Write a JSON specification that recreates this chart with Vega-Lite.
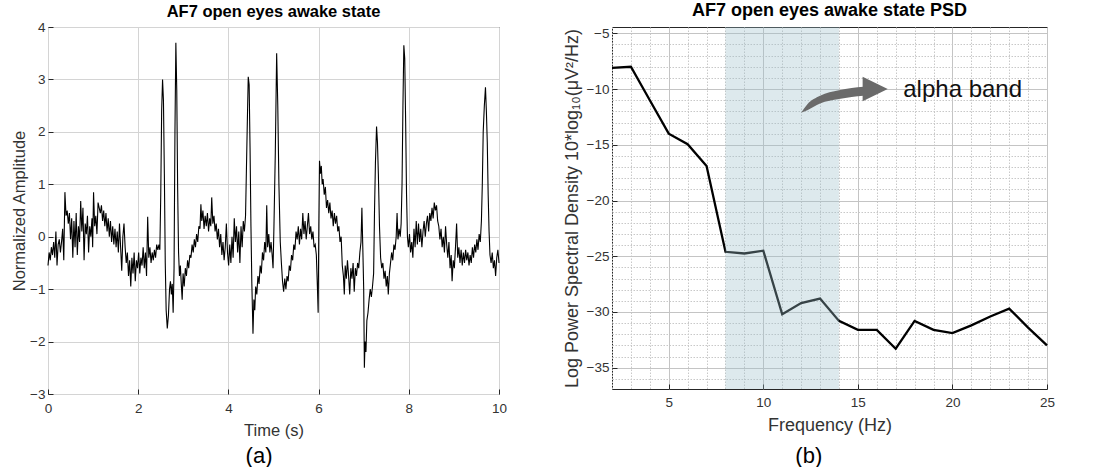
{
  "$schema": "https://vega.github.io/schema/vega-lite/v6.json",
  "background": "white",
  "padding": {"left": 11, "top": 1, "right": 0, "bottom": 0},
  "spacing": 54,
  "config": {
    "font": "Liberation Sans",
    "view": {"stroke": "#262626", "strokeWidth": 1},
    "axis": {
      "domain": false,
      "grid": true,
      "gridColor": "#d4d4d4",
      "gridOpacity": 1,
      "tickColor": "#262626",
      "tickSize": -5,
      "labelColor": "#333333",
      "labelFont": "Liberation Sans",
      "labelFontSize": 13.5,
      "labelPadding": 8,
      "labelFlush": false,
      "labelOverlap": false,
      "titleColor": "#333333",
      "titleFont": "Liberation Sans",
      "titleFontWeight": "normal",
      "titleFontSize": 16.5
    },
    "title": {"color": "#000000", "font": "Liberation Sans", "fontWeight": "bold", "anchor": "middle"}
  },
  "datasets": {
    "eeg": [
      {"t":0.000,"v":-0.55},{"t":0.025,"v":-0.30},{"t":0.050,"v":-0.45},{"t":0.075,"v":-0.20},{"t":0.100,"v":-0.35},{"t":0.125,"v":-0.10},{"t":0.150,"v":-0.40},{"t":0.175,"v":0.10},{"t":0.200,"v":-0.55},{"t":0.225,"v":-0.15},{"t":0.250,"v":-0.05},{"t":0.275,"v":-0.30},{"t":0.300,"v":-0.10},{"t":0.325,"v":0.15},{"t":0.350,"v":-0.45},{"t":0.375,"v":0.85},{"t":0.400,"v":0.40},{"t":0.425,"v":0.50},{"t":0.450,"v":0.25},{"t":0.475,"v":0.45},{"t":0.500,"v":-0.05},
      {"t":0.525,"v":0.35},{"t":0.550,"v":-0.40},{"t":0.575,"v":0.30},{"t":0.600,"v":-0.20},{"t":0.625,"v":0.45},{"t":0.650,"v":-0.35},{"t":0.675,"v":0.20},{"t":0.700,"v":-0.10},{"t":0.725,"v":0.68},{"t":0.750,"v":0.10},{"t":0.775,"v":0.55},{"t":0.800,"v":-0.45},{"t":0.825,"v":0.25},{"t":0.850,"v":0.05},{"t":0.875,"v":0.40},{"t":0.900,"v":-0.30},{"t":0.925,"v":0.20},{"t":0.950,"v":0.00},{"t":0.975,"v":0.35},{"t":0.990,"v":-0.20},
      {"t":1.010,"v":0.85},{"t":1.035,"v":0.20},{"t":1.060,"v":0.40},{"t":1.085,"v":0.05},{"t":1.110,"v":0.65},{"t":1.135,"v":0.55},{"t":1.160,"v":0.45},{"t":1.185,"v":0.60},{"t":1.210,"v":0.30},{"t":1.235,"v":0.50},{"t":1.260,"v":0.20},{"t":1.285,"v":0.45},{"t":1.310,"v":0.10},{"t":1.335,"v":0.35},{"t":1.360,"v":0.00},{"t":1.385,"v":0.30},{"t":1.410,"v":-0.10},{"t":1.435,"v":0.20},{"t":1.460,"v":-0.15},{"t":1.485,"v":0.15},
      {"t":1.510,"v":-0.20},{"t":1.535,"v":0.10},{"t":1.560,"v":-0.30},{"t":1.585,"v":0.25},{"t":1.610,"v":-0.20},{"t":1.635,"v":-0.65},{"t":1.660,"v":0.00},{"t":1.685,"v":0.25},{"t":1.710,"v":-0.20},{"t":1.735,"v":-0.50},{"t":1.760,"v":-0.30},{"t":1.785,"v":-0.75},{"t":1.810,"v":-0.45},{"t":1.835,"v":-0.95},{"t":1.860,"v":-0.40},{"t":1.885,"v":-0.70},{"t":1.910,"v":-0.30},{"t":1.935,"v":-0.85},{"t":1.960,"v":-0.45},{"t":1.985,"v":-0.60},
      {"t":2.010,"v":-0.30},{"t":2.035,"v":-0.70},{"t":2.060,"v":-0.40},{"t":2.085,"v":-0.55},{"t":2.110,"v":-0.20},{"t":2.135,"v":-0.60},{"t":2.160,"v":-0.30},{"t":2.185,"v":-0.75},{"t":2.210,"v":0.38},{"t":2.235,"v":-0.40},{"t":2.260,"v":-0.20},{"t":2.285,"v":-0.50},{"t":2.310,"v":-0.30},{"t":2.335,"v":-0.45},{"t":2.360,"v":-0.25},{"t":2.385,"v":-0.40},{"t":2.410,"v":-0.15},{"t":2.435,"v":-0.25},{"t":2.460,"v":-0.15},{"t":2.480,"v":-0.25},
      {"t":2.500,"v":0.80},{"t":2.520,"v":2.40},{"t":2.540,"v":3.00},{"t":2.560,"v":2.60},{"t":2.580,"v":1.20},{"t":2.600,"v":-0.50},{"t":2.620,"v":-1.40},{"t":2.645,"v":-1.75},{"t":2.670,"v":-1.50},{"t":2.695,"v":-1.00},{"t":2.715,"v":-0.85},{"t":2.735,"v":-1.10},{"t":2.755,"v":-0.90},{"t":2.775,"v":-1.45},{"t":2.795,"v":-0.60},{"t":2.815,"v":2.00},{"t":2.835,"v":3.70},{"t":2.855,"v":2.80},{"t":2.875,"v":0.90},{"t":2.895,"v":-0.30},
      {"t":2.915,"v":-0.75},{"t":2.935,"v":-0.55},{"t":2.955,"v":-0.90},{"t":2.975,"v":-1.20},{"t":2.995,"v":-0.70},{"t":3.020,"v":-0.95},{"t":3.045,"v":-0.60},{"t":3.070,"v":-0.75},{"t":3.095,"v":-0.45},{"t":3.120,"v":-0.60},{"t":3.145,"v":-0.35},{"t":3.170,"v":-0.40},{"t":3.195,"v":-0.15},{"t":3.220,"v":-0.30},{"t":3.245,"v":-0.05},{"t":3.270,"v":-0.20},{"t":3.295,"v":0.05},{"t":3.320,"v":-0.10},{"t":3.345,"v":0.20},{"t":3.370,"v":0.15},
      {"t":3.390,"v":0.62},{"t":3.410,"v":0.30},{"t":3.435,"v":0.50},{"t":3.460,"v":0.15},{"t":3.485,"v":0.40},{"t":3.510,"v":0.20},{"t":3.535,"v":0.45},{"t":3.560,"v":0.10},{"t":3.585,"v":0.35},{"t":3.610,"v":0.20},{"t":3.630,"v":0.75},{"t":3.655,"v":0.25},{"t":3.680,"v":0.40},{"t":3.705,"v":0.10},{"t":3.730,"v":0.25},{"t":3.755,"v":-0.05},{"t":3.780,"v":0.15},{"t":3.805,"v":-0.20},{"t":3.830,"v":0.05},{"t":3.855,"v":-0.35},
      {"t":3.880,"v":-0.10},{"t":3.905,"v":-0.45},{"t":3.930,"v":-0.20},{"t":3.955,"v":0.25},{"t":3.980,"v":-0.30},{"t":4.005,"v":-0.55},{"t":4.030,"v":-0.15},{"t":4.055,"v":-0.50},{"t":4.080,"v":0.00},{"t":4.105,"v":-0.40},{"t":4.130,"v":0.35},{"t":4.155,"v":-0.10},{"t":4.180,"v":0.20},{"t":4.205,"v":-0.30},{"t":4.230,"v":0.10},{"t":4.255,"v":-0.50},{"t":4.280,"v":0.20},{"t":4.305,"v":-0.20},{"t":4.330,"v":0.30},{"t":4.355,"v":0.10},
      {"t":4.380,"v":0.40},{"t":4.400,"v":1.30},{"t":4.420,"v":2.20},{"t":4.440,"v":3.05},{"t":4.460,"v":2.90},{"t":4.480,"v":1.70},{"t":4.500,"v":0.20},{"t":4.520,"v":-0.90},{"t":4.545,"v":-1.85},{"t":4.565,"v":-1.20},{"t":4.585,"v":-1.40},{"t":4.605,"v":-0.95},{"t":4.630,"v":-1.10},{"t":4.655,"v":-0.75},{"t":4.680,"v":-0.90},{"t":4.705,"v":-0.55},{"t":4.730,"v":-0.70},{"t":4.755,"v":-0.30},{"t":4.780,"v":-0.45},{"t":4.805,"v":-0.10},
      {"t":4.830,"v":-0.30},{"t":4.850,"v":0.60},{"t":4.870,"v":-0.20},{"t":4.895,"v":0.05},{"t":4.920,"v":-0.30},{"t":4.945,"v":-0.10},{"t":4.970,"v":-0.35},{"t":4.990,"v":-0.60},{"t":5.010,"v":0.20},{"t":5.040,"v":1.60},{"t":5.070,"v":3.50},{"t":5.095,"v":2.50},{"t":5.120,"v":1.00},{"t":5.150,"v":-0.10},{"t":5.175,"v":-0.50},{"t":5.200,"v":-0.85},{"t":5.225,"v":-1.05},{"t":5.250,"v":-0.80},{"t":5.275,"v":-1.00},{"t":5.300,"v":-0.75},
      {"t":5.325,"v":-0.85},{"t":5.350,"v":-0.55},{"t":5.375,"v":-0.65},{"t":5.400,"v":-0.35},{"t":5.425,"v":-0.45},{"t":5.450,"v":-0.15},{"t":5.475,"v":-0.25},{"t":5.500,"v":0.10},{"t":5.525,"v":-0.05},{"t":5.550,"v":0.20},{"t":5.575,"v":-0.15},{"t":5.600,"v":0.15},{"t":5.625,"v":-0.05},{"t":5.650,"v":0.45},{"t":5.675,"v":0.05},{"t":5.700,"v":0.30},{"t":5.725,"v":-0.05},{"t":5.750,"v":0.20},{"t":5.775,"v":0.45},{"t":5.800,"v":0.05},
      {"t":5.825,"v":0.20},{"t":5.850,"v":-0.05},{"t":5.875,"v":0.10},{"t":5.900,"v":-0.20},{"t":5.925,"v":-0.15},{"t":5.950,"v":-0.35},{"t":5.975,"v":-1.00},{"t":5.990,"v":-1.45},{"t":6.005,"v":0.20},{"t":6.020,"v":1.45},{"t":6.040,"v":1.20},{"t":6.060,"v":1.35},{"t":6.080,"v":1.00},{"t":6.100,"v":1.10},{"t":6.125,"v":0.80},{"t":6.150,"v":0.95},{"t":6.175,"v":0.55},{"t":6.200,"v":0.70},{"t":6.225,"v":0.45},{"t":6.250,"v":0.65},
      {"t":6.275,"v":0.35},{"t":6.300,"v":0.50},{"t":6.325,"v":0.20},{"t":6.350,"v":0.45},{"t":6.375,"v":0.25},{"t":6.400,"v":0.40},{"t":6.425,"v":0.10},{"t":6.450,"v":0.20},{"t":6.475,"v":-0.10},{"t":6.500,"v":0.00},{"t":6.525,"v":-0.55},{"t":6.550,"v":-0.75},{"t":6.570,"v":-1.10},{"t":6.590,"v":-0.55},{"t":6.615,"v":-0.80},{"t":6.640,"v":-0.45},{"t":6.665,"v":-0.75},{"t":6.690,"v":-1.10},{"t":6.715,"v":-0.60},{"t":6.740,"v":-0.80},
      {"t":6.765,"v":-0.50},{"t":6.790,"v":-1.05},{"t":6.815,"v":-0.60},{"t":6.840,"v":-0.75},{"t":6.865,"v":-0.50},{"t":6.890,"v":-0.60},{"t":6.915,"v":-0.30},{"t":6.940,"v":-0.10},{"t":6.960,"v":0.55},{"t":6.980,"v":-0.20},{"t":7.000,"v":-1.00},{"t":7.015,"v":-2.50},{"t":7.030,"v":-2.00},{"t":7.050,"v":-2.20},{"t":7.070,"v":-1.60},{"t":7.095,"v":-1.45},{"t":7.120,"v":-1.20},{"t":7.145,"v":-1.00},{"t":7.170,"v":-1.15},{"t":7.195,"v":-0.95},
      {"t":7.220,"v":-0.70},{"t":7.240,"v":0.50},{"t":7.260,"v":1.40},{"t":7.285,"v":2.10},{"t":7.305,"v":1.80},{"t":7.325,"v":1.20},{"t":7.350,"v":0.20},{"t":7.375,"v":-0.40},{"t":7.400,"v":-0.60},{"t":7.425,"v":-0.50},{"t":7.450,"v":-0.80},{"t":7.475,"v":-0.65},{"t":7.500,"v":-0.95},{"t":7.525,"v":-0.75},{"t":7.545,"v":-1.10},{"t":7.570,"v":-0.70},{"t":7.595,"v":-0.50},{"t":7.620,"v":-0.30},{"t":7.645,"v":-0.45},{"t":7.670,"v":-0.15},
      {"t":7.695,"v":-0.25},{"t":7.720,"v":0.00},{"t":7.740,"v":0.45},{"t":7.760,"v":-0.05},{"t":7.785,"v":0.15},{"t":7.810,"v":0.00},{"t":7.830,"v":0.25},{"t":7.850,"v":1.00},{"t":7.870,"v":2.50},{"t":7.890,"v":3.65},{"t":7.910,"v":3.40},{"t":7.930,"v":2.20},{"t":7.950,"v":0.80},{"t":7.970,"v":0.00},{"t":7.990,"v":-0.20},{"t":8.015,"v":0.05},{"t":8.040,"v":-0.30},{"t":8.065,"v":-0.10},{"t":8.090,"v":-0.40},{"t":8.115,"v":0.15},
      {"t":8.140,"v":-0.20},{"t":8.165,"v":0.30},{"t":8.190,"v":-0.15},{"t":8.215,"v":0.25},{"t":8.240,"v":-0.10},{"t":8.265,"v":0.15},{"t":8.290,"v":-0.20},{"t":8.315,"v":0.10},{"t":8.340,"v":0.30},{"t":8.365,"v":0.00},{"t":8.390,"v":0.25},{"t":8.415,"v":0.40},{"t":8.440,"v":0.10},{"t":8.465,"v":0.45},{"t":8.490,"v":0.30},{"t":8.515,"v":0.55},{"t":8.540,"v":0.35},{"t":8.565,"v":0.65},{"t":8.590,"v":0.50},{"t":8.615,"v":0.60},
      {"t":8.640,"v":0.30},{"t":8.665,"v":0.20},{"t":8.690,"v":-0.05},{"t":8.715,"v":0.15},{"t":8.740,"v":-0.20},{"t":8.765,"v":0.00},{"t":8.790,"v":-0.30},{"t":8.815,"v":0.20},{"t":8.840,"v":-0.15},{"t":8.865,"v":-0.40},{"t":8.890,"v":-0.10},{"t":8.915,"v":-0.60},{"t":8.940,"v":-0.35},{"t":8.960,"v":-0.85},{"t":8.985,"v":-0.45},{"t":9.010,"v":-0.60},{"t":9.035,"v":-0.20},{"t":9.060,"v":0.25},{"t":9.085,"v":-0.40},{"t":9.110,"v":-0.20},
      {"t":9.135,"v":-0.50},{"t":9.160,"v":-0.25},{"t":9.185,"v":-0.55},{"t":9.210,"v":-0.30},{"t":9.235,"v":-0.50},{"t":9.260,"v":-0.25},{"t":9.285,"v":-0.45},{"t":9.310,"v":-0.30},{"t":9.335,"v":-0.55},{"t":9.360,"v":-0.35},{"t":9.385,"v":-0.50},{"t":9.410,"v":-0.20},{"t":9.435,"v":-0.40},{"t":9.460,"v":-0.15},{"t":9.485,"v":-0.30},{"t":9.510,"v":-0.05},{"t":9.535,"v":-0.25},{"t":9.560,"v":0.05},{"t":9.585,"v":-0.10},{"t":9.610,"v":0.30},
      {"t":9.630,"v":1.00},{"t":9.650,"v":2.00},{"t":9.675,"v":2.50},{"t":9.700,"v":2.85},{"t":9.720,"v":2.40},{"t":9.740,"v":1.80},{"t":9.760,"v":0.80},{"t":9.780,"v":0.10},{"t":9.800,"v":-0.35},{"t":9.825,"v":-0.50},{"t":9.850,"v":-0.30},{"t":9.875,"v":-0.60},{"t":9.900,"v":-0.45},{"t":9.925,"v":-0.75},{"t":9.950,"v":-0.40},{"t":9.975,"v":-0.25},{"t":10.000,"v":-0.50}
    ],
    "psd": [
      {"f":2,"db":-8.1},{"f":3,"db":-8.0},{"f":4,"db":-11.0},{"f":5,"db":-14.0},{"f":6,"db":-14.95},{"f":7,"db":-16.9},{"f":8,"db":-24.6},{"f":9,"db":-24.75},{"f":10,"db":-24.5},{"f":11,"db":-30.2},{"f":12,"db":-29.2},{"f":13,"db":-28.8},{"f":14,"db":-30.8},{"f":15,"db":-31.6},{"f":16,"db":-31.6},{"f":17,"db":-33.3},{"f":18,"db":-30.8},{"f":19,"db":-31.6},{"f":20,"db":-31.9},{"f":21,"db":-31.2},{"f":22,"db":-30.4},{"f":23,"db":-29.7},{"f":24,"db":-31.4},{"f":25,"db":-33.0}
    ],
    "band": [{"lo": 8, "hi": 14}],
    "arrowBody": [
      {"f":12.0,"top":-12.12,"bot":-12.12},{"f":12.33,"top":-11.36,"bot":-11.9},{"f":13.0,"top":-10.6,"bot":-11.3},{"f":14.0,"top":-10.1,"bot":-10.9},{"f":14.67,"top":-9.9,"bot":-10.7},{"f":15.3,"top":-9.8,"bot":-10.6}
    ],
    "arrowHead": [
      {"f":15.25,"top":-8.9,"bot":-11.1},{"f":16.58,"top":-10.0,"bot":-10.0}
    ],
    "note": [{"f":17.4,"db":-10.1,"label":"alpha band"}]
  },
  "hconcat": [
    {
      "title": {"text": "(a)", "orient": "bottom", "fontSize": 22, "fontWeight": "normal", "color": "#000000", "offset": 6},
      "vconcat": [
        {
          "title": {"text": "AF7 open eyes awake state", "fontSize": 16.5, "offset": 0},
          "width": 451,
          "height": 367,
          "data": {"name": "eeg"},
          "mark": {"type": "line", "color": "#000000", "strokeWidth": 1.1},
          "encoding": {
            "x": {"field": "t", "type": "quantitative", "scale": {"domain": [0, 10], "nice": false, "zero": false},
                  "axis": {"values": [0, 2, 4, 6, 8, 10], "format": "d", "labelOverlap": false, "labelPadding": 12, "title": "Time (s)", "titlePadding": 8}},
            "y": {"field": "v", "type": "quantitative", "scale": {"domain": [-3, 4], "nice": false, "zero": false},
                  "axis": {"values": [-3, -2, -1, 0, 1, 2, 3, 4], "format": "d", "labelOverlap": false, "title": "Normalized Amplitude", "titlePadding": 2}}
          }
        }
      ]
    },
    {
      "title": {"text": "(b)", "orient": "bottom", "fontSize": 22, "fontWeight": "normal", "color": "#000000", "offset": 11},
      "vconcat": [
        {
          "title": {"text": "AF7 open eyes awake state PSD", "fontSize": 18, "offset": 6},
          "width": 435,
          "height": 362,
          "layer": [
            {
              "data": {"name": "psd"},
              "mark": {"type": "line", "color": "#000000", "strokeWidth": 2.3},
              "encoding": {
                "x": {"field": "f", "type": "quantitative", "scale": {"domain": [2, 25], "nice": false, "zero": false},
                      "axis": {"values": [2,3,4,5,6,7,8,9,10,11,12,13,14,15,16,17,18,19,20,21,22,23,24,25],
                               "tickCount": 100,
                               "format": "d",
                               "labelOverlap": false,
                               "labelPadding": 11,
                               "labelExpr": "datum.value % 5 === 0 ? datum.label : ''",
                               "gridDash": {"condition": {"test": "datum.value % 5 === 0", "value": []}, "value": [1.5, 1.5]},
                               "gridColor": {"condition": {"test": "datum.value % 5 === 0", "value": "#c4c4c4"}, "value": "#c8c8c8"},
                               "tickSize": {"condition": {"test": "datum.value % 5 === 0", "value": -5}, "value": 0},
                               "title": "Frequency (Hz)", "titleFontSize": 18, "titlePadding": 3}},
                "y": {"field": "db", "type": "quantitative", "scale": {"domain": [-36.91, -4.43], "nice": false, "zero": false},
                      "axis": {"values": [-36,-35,-34,-33,-32,-31,-30,-29,-28,-27,-26,-25,-24,-23,-22,-21,-20,-19,-18,-17,-16,-15,-14,-13,-12,-11,-10,-9,-8,-7,-6,-5],
                               "tickCount": 100,
                               "format": "d",
                               "labelOverlap": false,
                               "labelExpr": "datum.value % 5 === 0 ? datum.label : ''",
                               "gridDash": {"condition": {"test": "datum.value % 5 === 0", "value": []}, "value": [1.5, 1.5]},
                               "gridColor": {"condition": {"test": "datum.value % 5 === 0", "value": "#c4c4c4"}, "value": "#c8c8c8"},
                               "tickSize": {"condition": {"test": "datum.value % 5 === 0", "value": -5}, "value": 0},
                               "title": "Log Power Spectral Density 10*log₁₀(μV²/Hz)", "titleFontSize": 18, "titlePadding": 5}}
              }
            },
            {
              "data": {"name": "band"},
              "mark": {"type": "rect", "color": "#9ec0cc", "opacity": 0.35},
              "encoding": {
                "x": {"field": "lo", "type": "quantitative"},
                "x2": {"field": "hi"}
              }
            },
            {
              "data": {"name": "arrowBody"},
              "mark": {"type": "area", "color": "#6a6a6a", "interpolate": "monotone"},
              "encoding": {
                "x": {"field": "f", "type": "quantitative"},
                "y": {"field": "top", "type": "quantitative"},
                "y2": {"field": "bot"}
              }
            },
            {
              "data": {"name": "arrowHead"},
              "mark": {"type": "area", "color": "#6a6a6a"},
              "encoding": {
                "x": {"field": "f", "type": "quantitative"},
                "y": {"field": "top", "type": "quantitative"},
                "y2": {"field": "bot"}
              }
            },
            {
              "data": {"name": "note"},
              "mark": {"type": "text", "align": "left", "baseline": "middle", "fontSize": 24, "font": "Liberation Sans", "color": "#111111"},
              "encoding": {
                "x": {"field": "f", "type": "quantitative"},
                "y": {"field": "db", "type": "quantitative"},
                "text": {"field": "label"}
              }
            }
          ]
        }
      ]
    }
  ]
}
